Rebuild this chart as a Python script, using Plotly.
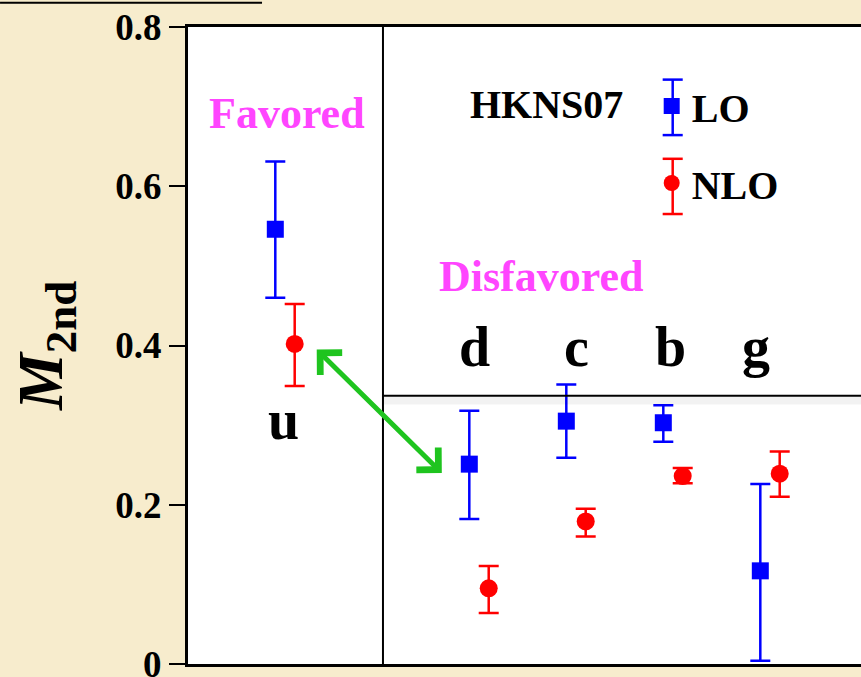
import plotly.graph_objects as go

# ---------------- data ----------------
categories = ["u", "d", "c", "b", "g"]
lo_values = [0.546, 0.251, 0.305, 0.303, 0.117]
lo_upper = [0.631, 0.318, 0.351, 0.325, 0.226]
lo_lower = [0.460, 0.182, 0.259, 0.279, 0.004]
nlo_values = [0.402, 0.095, 0.179, 0.236, 0.239]
nlo_upper = [0.452, 0.123, 0.195, 0.246, 0.267]
nlo_lower = [0.349, 0.064, 0.160, 0.227, 0.210]
y_ticks = [0, 0.2, 0.4, 0.6, 0.8]
y_tick_labels = ["0", "0.2", "0.4", "0.6", "0.8"]
divider_value = 0.337

# layout helpers (positions, not data)
cat_pos = {"u": 0, "d": 2, "c": 3, "b": 4, "g": 5}
offset = 0.1
x_lo = [cat_pos[c] - offset for c in categories]
x_nlo = [cat_pos[c] + offset for c in categories]

FONT = "Liberation Serif, Times New Roman, serif"
BLUE = "#0000FF"
RED = "#FF0000"
MAGENTA = "#FF45FF"
GREEN = "#1FC41F"
BG = "#F7ECCD"

fig = go.Figure()
fig.add_trace(go.Scatter(
    x=x_lo, y=lo_values, mode="markers", name="LO", legendgroup="lo",
    marker=dict(symbol="square", size=17, color=BLUE),
    error_y=dict(type="data", symmetric=False,
                 array=[u - v for u, v in zip(lo_upper, lo_values)],
                 arrayminus=[v - l for v, l in zip(lo_values, lo_lower)],
                 color=BLUE, thickness=2.5, width=10),
))
fig.add_trace(go.Scatter(
    x=x_nlo, y=nlo_values, mode="markers", name="NLO", legendgroup="nlo",
    marker=dict(symbol="circle", size=18, color=RED),
    error_y=dict(type="data", symmetric=False,
                 array=[u - v for u, v in zip(nlo_upper, nlo_values)],
                 arrayminus=[v - l for v, l in zip(nlo_values, nlo_lower)],
                 color=RED, thickness=2.5, width=10),
))

annotations = []
def txt(text, x, y, size, color="black"):
    annotations.append(dict(text=text, x=x, y=y, xref="x", yref="y",
                            showarrow=False, xanchor="center", yanchor="middle",
                            font=dict(family=FONT, size=size, color=color, weight="bold")))

txt("Favored", 0.02, 0.691, 44, MAGENTA)
txt("Disfavored", 2.64, 0.4865, 44, MAGENTA)
txt("HKNS07", 2.70, 0.703, 40)
label_x = {"u": -0.02, "d": 1.95, "c": 3.01, "b": 3.97, "g": 4.86}
for c in categories:
    txt(c, label_x[c], 0.306 if c == "u" else 0.3975, 56)

# double-headed green arrow
annotations.append(dict(x=0.327, y=0.395, ax=1.632, ay=0.238, xref="x", yref="y",
                        axref="x", ayref="y", text="", showarrow=True,
                        arrowhead=4, startarrowhead=4, arrowside="end+start",
                        arrowsize=1.2, startarrowsize=1.2, arrowwidth=5,
                        arrowcolor=GREEN))

shapes = [
    dict(type="line", xref="x", yref="y", x0=1.01, x1=1.01, y0=0, y1=0.8,
         line=dict(color="black", width=2)),
    dict(type="line", xref="x", yref="y", x0=1.01, x1=7, y0=divider_value - 0.006,
         y1=divider_value - 0.006, line=dict(color="rgba(0,0,0,0.05)", width=8)),
    dict(type="line", xref="x", yref="y", x0=1.01, x1=7, y0=divider_value,
         y1=divider_value, line=dict(color="black", width=2)),
    dict(type="line", xref="paper", yref="paper", x0=-0.2793, x1=0.11, y0=1.038,
         y1=1.038, line=dict(color="black", width=2)),
]

# error-bar whiskers for the legend glyphs (decoration, paper coordinates)
leg_x, cap_half = 0.7202, 0.0149
for top, bot, col in [(0.9174, 0.8303, BLUE), (0.7931, 0.7064, RED)]:
    shapes.append(dict(type="line", xref="paper", yref="paper", x0=leg_x, x1=leg_x,
                       y0=bot, y1=top, line=dict(color=col, width=2.5)))
    for yy in (top, bot):
        shapes.append(dict(type="line", xref="paper", yref="paper",
                           x0=leg_x - cap_half, x1=leg_x + cap_half, y0=yy, y1=yy,
                           line=dict(color=col, width=2.5)))

fig.update_layout(
    width=861, height=677,
    margin=dict(l=188, r=0, t=27, b=13),
    paper_bgcolor=BG,
    plot_bgcolor="white",
    showlegend=True,
    legend=dict(x=0.689, y=0.927, xanchor="left", yanchor="top",
                bgcolor="rgba(0,0,0,0)", tracegroupgap=22,
                font=dict(family=FONT, size=40, color="black", weight="bold")),
    xaxis=dict(range=[-1.0, 5.938], showticklabels=False, ticks="",
               showgrid=False, zeroline=False, showline=True, mirror=True,
               linecolor="black", linewidth=3, automargin=False),
    yaxis=dict(range=[0, 0.8], tickvals=y_ticks, ticktext=y_tick_labels,
               ticks="outside", ticklen=16, tickwidth=1.5, tickcolor="black",
               ticklabeloverflow="allow", automargin=False,
               showgrid=False, zeroline=False, showline=True, mirror=False,
               linecolor="black", linewidth=3,
               tickfont=dict(family=FONT, size=37, color="black", weight="bold"),
               title=dict(text="<i>M</i><sub>2nd</sub>", standoff=32,
                          font=dict(family=FONT, size=64, color="black", weight="bold"))),
    annotations=annotations,
    shapes=shapes,
)

fig.write_html("out.html", config={"displayModeBar": False},
               post_script="document.body.style.margin='0px';document.body.style.background='" + BG + "';")
